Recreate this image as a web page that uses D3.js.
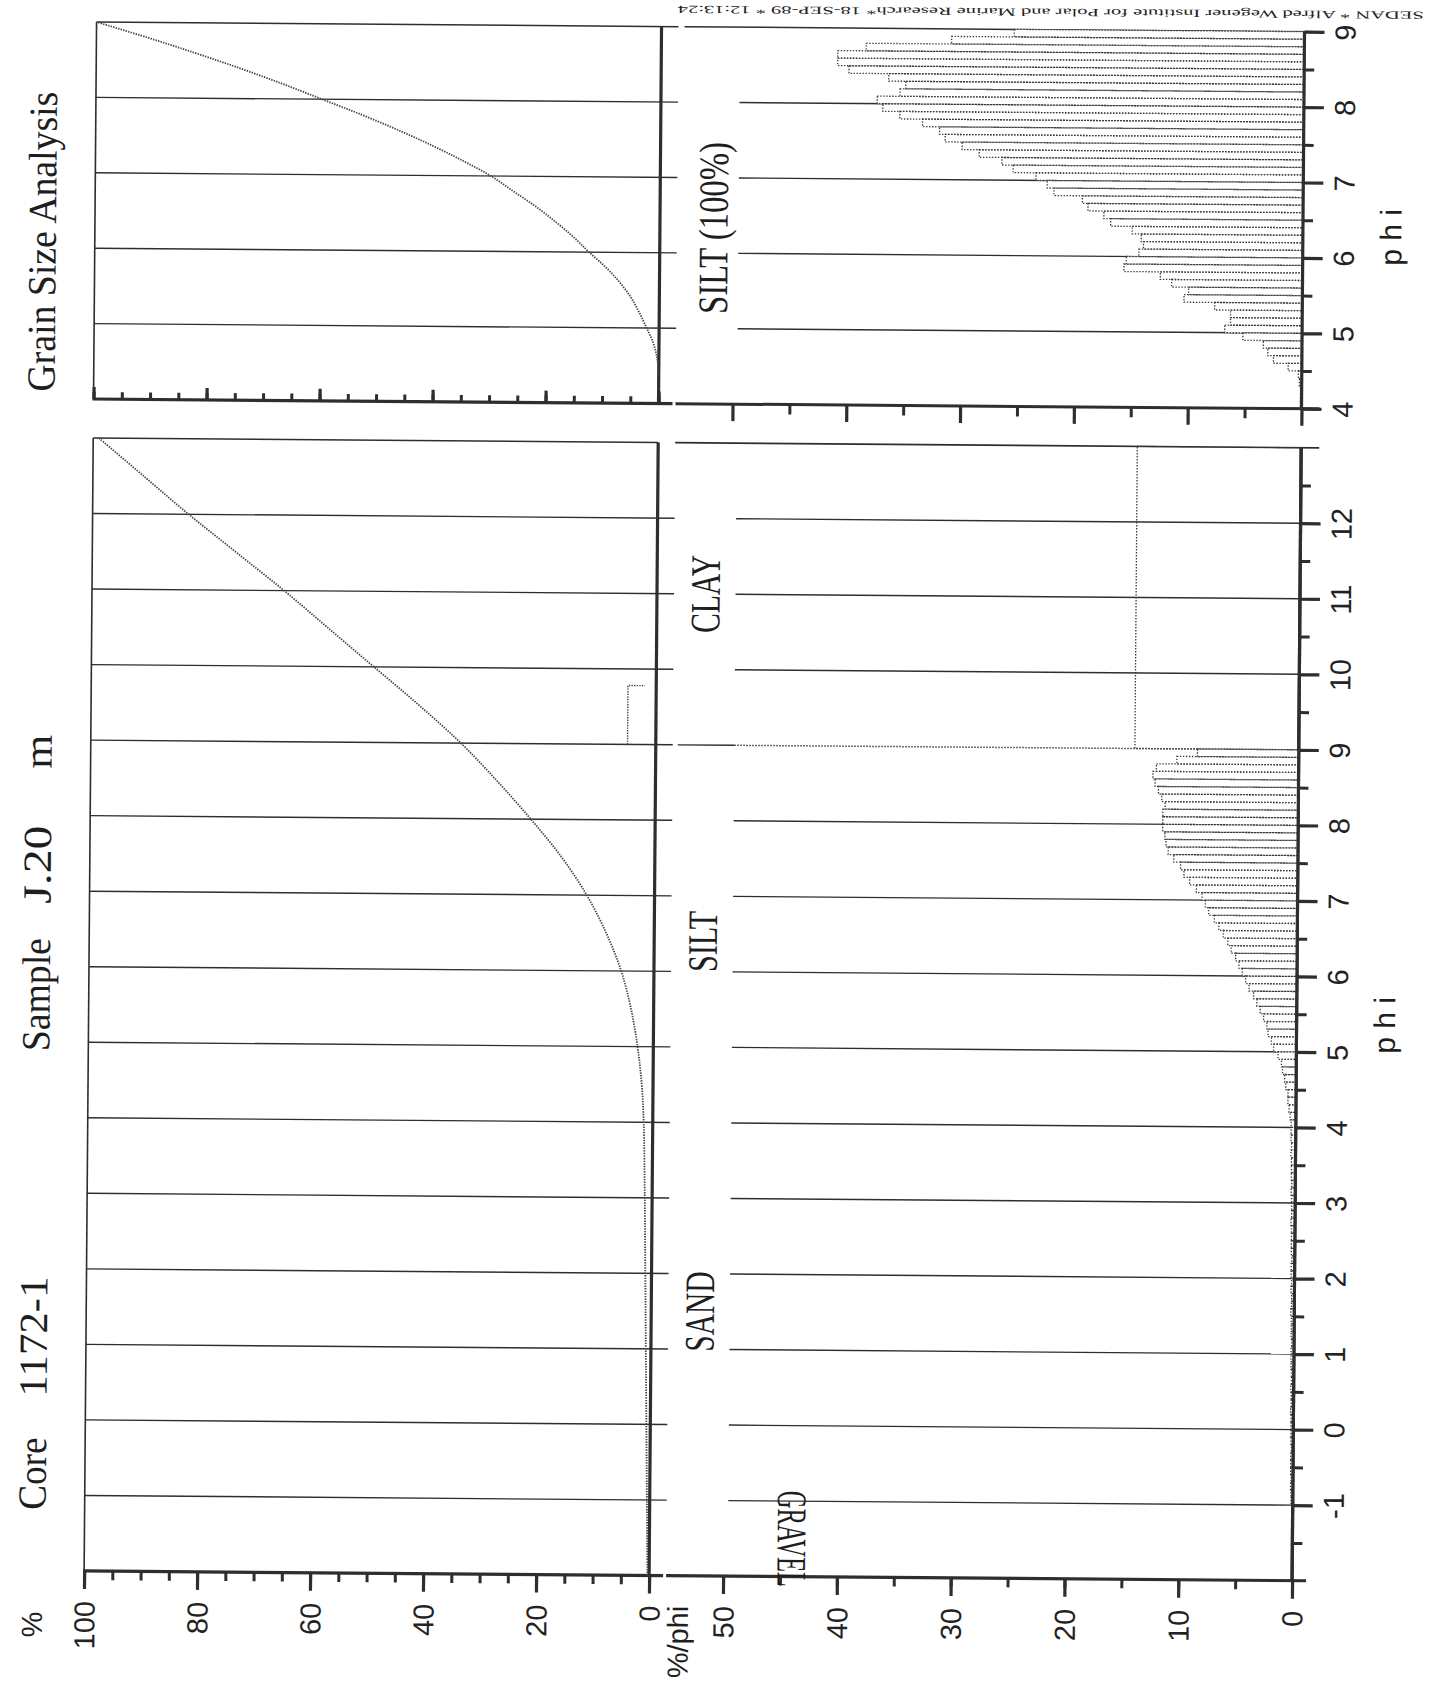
<!DOCTYPE html>
<html>
<head>
<meta charset="utf-8">
<script src="https://cdn.jsdelivr.net/npm/d3@7/dist/d3.min.js"></script>
<style>
html,body{margin:0;padding:0;background:#fff;}
svg{display:block;}
</style>
</head>
<body>
<svg id="chart" width="1430" height="1683"></svg>
<script>
// ---------------- data ----------------
const phiTicksLeft  = [-1,0,1,2,3,4,5,6,7,8,9,10,11,12];
const phiTicksRight = [4,5,6,7,8,9];
const cumTickLabels  = [100,80,60,40,20,0];
const histTickLabels = [50,40,30,20,10,0];

// cumulative curve, whole sample (%)
const cumAllPhi = [-2,-1,0,1,2,3,4,4.5,5,5.5,6,6.5,7,7.5,8,8.5,9,9.5,10,10.5,11,11.5,12,12.5,13];
const cumAllPct = [0.3,0.5,0.7,0.9,1.1,1.3,1.6,2.0,2.8,4.0,5.8,8.5,12.0,16.5,22.0,28.0,34.5,42.0,50.0,58.0,66.0,74.5,83.0,91.0,99.0];

// cumulative curve, silt fraction only (%)
const cumSiltPhi = [4.4,4.6,4.8,5.0,5.2,5.4,5.6,5.8,6.0,6.2,6.4,6.6,6.8,7.0,7.2,7.4,7.6,7.8,8.0,8.2,8.4,8.6,8.8,9.0];
const cumSiltPct = [0,0.3,1.0,2.2,3.5,5.0,7.0,9.5,12.5,15.3,18.5,22.0,26.0,30.0,35.0,40.5,46.5,53.0,60.0,67.0,74.5,82.5,91.0,100];

// histogram bins, 0.1 phi wide (%/phi)
const binWidth = 0.1;
const sandBinStart = -1.0;
const sandPctPerPhi = [0.15,0.15,0.2,0.15,0.2,0.2,0.2,0.15,0.2,0.2,
                       0.2,0.2,0.25,0.2,0.2,0.25,0.2,0.2,0.25,0.25,
                       0.25,0.2,0.25,0.25,0.25,0.3,0.25,0.25,0.3,0.25,
                       0.3,0.3,0.25,0.3,0.3,0.3,0.3,0.35,0.3,0.3,
                       0.3,0.35,0.3,0.35,0.35,0.35,0.4,0.35,0.4,0.4];
const siltBinStart = 4.0;
const siltPctPerPhi = [0.4,0.5,0.6,0.7,0.7,0.9,1.0,1.2,1.3,1.6,
                       2.0,2.2,2.5,2.6,2.9,3.2,3.5,3.8,4.2,4.5,
                       4.8,5.1,5.4,5.8,6.1,6.5,6.9,7.3,7.8,8.1,
                       8.4,8.9,9.5,10.0,10.3,10.9,11.4,11.6,11.7,11.9,
                       11.9,11.9,11.7,12.0,12.3,12.6,12.8,12.5,10.7,8.9];
const clayPhiRange = [9, 13];
const clayPctPerPhi = 14.4;

const silt100BinStart = 4.0;
const silt100PctPerPhi = [0.1,0.1,0.1,0.2,0.3,1.2,2.5,3.0,3.4,5.2,
                          6.8,6.3,6.3,7.7,10.4,10.0,11.5,12.5,15.7,15.5,
                          14.4,14.0,14.2,15.0,16.9,17.5,18.9,19.4,21.9,22.5,
                          23.5,25.5,26.5,28.5,30.0,31.5,32.0,33.5,35.5,37.0,
                          37.5,35.5,35.0,36.5,40.0,41.0,41.0,38.5,31.0,25.5];

// small marker in the cumulative panel
const markPhi = [9, 9.78, 9.78];
const markPct = [5, 5, 2];

const classNames   = ["GRAVEL","SAND","SILT","CLAY"];
const classCenters = [-1.5, 1.5, 6.4, 11];

// ---------------- drawing ----------------
const ink = '#2e2e2e';
const dots = '1.4 1.6';
const svg = d3.select('#chart');
const root = svg.append('g').attr('transform','rotate(0.46,715,841)');

const yL = d3.scaleLinear().domain([-2,13]).range([1576,443]);
const yR = d3.scaleLinear().domain([4,9]).range([404,27]);
const xCum  = d3.scaleLinear().domain([0,100]).range([655,90]);
const xHist = d3.scaleLinear().domain([0,50]).range([1298,729]);
const fmt = d => String(d);

function hline(g,x1,x2,y,w,dash){
  return g.append('line').attr('x1',x1).attr('x2',x2).attr('y1',y).attr('y2',y)
    .attr('stroke',ink).attr('stroke-width',w).attr('stroke-dasharray',dash||null);
}
function vline(g,x,y1,y2,w,dash){
  return g.append('line').attr('x1',x).attr('x2',x).attr('y1',y1).attr('y2',y2)
    .attr('stroke',ink).attr('stroke-width',w).attr('stroke-dasharray',dash||null);
}
function styleAxis(g, w){
  g.select('.domain').remove();
  g.selectAll('.tick line').attr('stroke',ink).attr('stroke-width',w);
  g.selectAll('text').attr('fill','#222').style('font-family','"Liberation Sans", Arial, sans-serif').style('font-size','29px');
}
function rotBottomLabels(g, off){
  g.selectAll('text').attr('transform','rotate(-90)').attr('x',-off).attr('y',0)
   .attr('dy','0.35em').attr('text-anchor','end');
}
function rotRightLabels(g, off){
  g.selectAll('text').attr('transform','rotate(-90)').attr('x',0).attr('y',off)
   .attr('dy','0.35em').attr('text-anchor','middle');
}
const range = (a,b,s)=>d3.range(a,b+s/2,s);

// ===== upper-left : cumulative, whole sample =====
const ul = root.append('g');
phiTicksLeft.forEach(p=>hline(ul, xCum(100), xCum(0)+17, yL(p), 1.4));
vline(ul, xCum(100), yL(-2), yL(13), 1.6);
hline(ul, xCum(100), xCum(0), yL(13), 1.5);
vline(ul, xCum(0), yL(-2), yL(13), 3.2);
hline(ul, xCum(100)-1, xCum(0)+14, yL(-2), 3.2);
{
  const gMin = ul.append('g').attr('transform',`translate(0,${yL(-2)})`)
    .call(d3.axisBottom(xCum).tickValues(range(0,100,5)).tickSize(9).tickFormat(''));
  styleAxis(gMin,3);
  const gMaj = ul.append('g').attr('transform',`translate(0,${yL(-2)})`)
    .call(d3.axisBottom(xCum).tickValues(cumTickLabels).tickSize(18).tickFormat(fmt));
  styleAxis(gMaj,3.2); rotBottomLabels(gMaj,30);
}
const cumLine = d3.line().x(d=>xCum(d[1])).y(d=>yL(d[0])).curve(d3.curveCatmullRom.alpha(0.5));
ul.append('path').datum(d3.zip(cumAllPhi,cumAllPct)).attr('d',cumLine)
  .attr('fill','none').attr('stroke','#444').attr('stroke-width',1.8).attr('stroke-dasharray','1.4 1.2');
ul.append('path').datum(d3.zip(markPhi,markPct))
  .attr('d',d3.line().x(d=>xCum(d[1])).y(d=>yL(d[0])))
  .attr('fill','none').attr('stroke','#444').attr('stroke-width',1.4).attr('stroke-dasharray','1.4 1.2');

// ===== lower-left : histogram, whole sample =====
const ll = root.append('g');
phiTicksLeft.filter(p=>p!==9).forEach(p=>hline(ll, xHist(49.6), xHist(0), yL(p), 1.4));
hline(ll, xCum(0)+22, xHist(49.6), yL(9), 1.4);
hline(ll, xHist(49.6), xHist(0), yL(9), 1.5, dots);
hline(ll, 672, xHist(0)+18, yL(13), 1.6);
hline(ll, 672, xHist(0)+14, yL(-2), 3.2);
vline(ll, xHist(0), yL(-2), yL(13), 3.2);
{
  const gMin = ll.append('g').attr('transform',`translate(0,${yL(-2)})`)
    .call(d3.axisBottom(xHist).tickValues(range(0,50,5)).tickSize(9).tickFormat(''));
  styleAxis(gMin,3);
  const gMaj = ll.append('g').attr('transform',`translate(0,${yL(-2)})`)
    .call(d3.axisBottom(xHist).tickValues(histTickLabels).tickSize(18).tickFormat(fmt));
  styleAxis(gMaj,3.2); rotBottomLabels(gMaj,30);
  const gPMin = ll.append('g').attr('transform',`translate(${xHist(0)},0)`)
    .call(d3.axisRight(yL).tickValues(range(-1.5,12.5,1)).tickSize(10).tickFormat(''));
  styleAxis(gPMin,3);
  const gPMaj = ll.append('g').attr('transform',`translate(${xHist(0)},0)`)
    .call(d3.axisRight(yL).tickValues(phiTicksLeft).tickSize(20).tickFormat(fmt));
  styleAxis(gPMaj,3.2); rotRightLabels(gPMaj,41);
}
const leftBins = [];
sandPctPerPhi.forEach((v,i)=>leftBins.push({p0:sandBinStart+i*binWidth, v}));
siltPctPerPhi.forEach((v,i)=>leftBins.push({p0:siltBinStart+i*binWidth, v}));
ll.selectAll('rect.fillL').data(leftBins).join('rect').attr('class','fillL')
  .attr('x',d=>xHist(d.v)).attr('width',d=>xHist(0)-xHist(d.v))
  .attr('y',d=>yL(d.p0+binWidth)).attr('height',d=>yL(d.p0)-yL(d.p0+binWidth))
  .attr('fill','#fff');
ll.selectAll('rect.strokeL').data(leftBins).join('rect').attr('class','strokeL')
  .attr('x',d=>xHist(d.v)).attr('width',d=>xHist(0)-xHist(d.v))
  .attr('y',d=>yL(d.p0+binWidth)).attr('height',d=>yL(d.p0)-yL(d.p0+binWidth))
  .attr('fill','none').attr('stroke','#3a3a3a').attr('stroke-width',1.3).attr('stroke-dasharray',dots);
ll.append('rect')
  .attr('x',xHist(clayPctPerPhi)).attr('width',xHist(0)-xHist(clayPctPerPhi))
  .attr('y',yL(clayPhiRange[1])).attr('height',yL(clayPhiRange[0])-yL(clayPhiRange[1]))
  .attr('fill','none').attr('stroke','#3a3a3a').attr('stroke-width',1.3).attr('stroke-dasharray',dots);
vline(ll, xHist(0), yL(-2), yL(13), 3.2);

// ===== upper-right : cumulative, silt only =====
const ur = root.append('g');
[5,6,7,8].forEach(p=>hline(ur, xCum(100), xCum(0)+17, yR(p), 1.4));
hline(ur, xCum(100), xCum(0)+17, yR(9), 1.5);
vline(ur, xCum(100), yR(4), yR(9), 1.6);
vline(ur, xCum(0), yR(4), yR(9), 3.2);
hline(ur, xCum(100)-1, xCum(0)+14, yR(4), 3.2);
{
  const gMin = ur.append('g').attr('transform',`translate(0,${yR(4)})`)
    .call(d3.axisTop(xCum).tickValues(range(0,100,5)).tickSize(7).tickFormat(''));
  styleAxis(gMin,3);
  const gMaj = ur.append('g').attr('transform',`translate(0,${yR(4)})`)
    .call(d3.axisTop(xCum).tickValues(cumTickLabels).tickSize(12).tickFormat(''));
  styleAxis(gMaj,3.2);
}
const cumLineR = d3.line().x(d=>xCum(d[1])).y(d=>yR(d[0])).curve(d3.curveCatmullRom.alpha(0.5));
ur.append('path').datum(d3.zip(cumSiltPhi,cumSiltPct)).attr('d',cumLineR)
  .attr('fill','none').attr('stroke','#444').attr('stroke-width',1.8).attr('stroke-dasharray','1.4 1.2');

// ===== lower-right : histogram, silt 100% =====
const lr = root.append('g');
[5,6,7,8].forEach(p=>hline(lr, xHist(49.6), xHist(0), yR(p), 1.4));
hline(lr, 678, xHist(0)+18, yR(9), 1.5);
hline(lr, 672, xHist(0)+18, yR(4), 3.0);
{
  const gMin = lr.append('g').attr('transform',`translate(0,${yR(4)})`)
    .call(d3.axisBottom(xHist).tickValues(range(5,45,10)).tickSize(10).tickFormat(''));
  styleAxis(gMin,3);
  const gMaj = lr.append('g').attr('transform',`translate(0,${yR(4)})`)
    .call(d3.axisBottom(xHist).tickValues(histTickLabels).tickSize(17).tickFormat(''));
  styleAxis(gMaj,3.2);
  const gPMin = lr.append('g').attr('transform',`translate(${xHist(0)},0)`)
    .call(d3.axisRight(yR).tickValues(range(4.5,8.5,1)).tickSize(10).tickFormat(''));
  styleAxis(gPMin,3);
  const gPMaj = lr.append('g').attr('transform',`translate(${xHist(0)},0)`)
    .call(d3.axisRight(yR).tickValues(phiTicksRight).tickSize(20).tickFormat(fmt));
  styleAxis(gPMaj,3.2); rotRightLabels(gPMaj,41);
}
const rightBins = silt100PctPerPhi.map((v,i)=>({p0:silt100BinStart+i*binWidth, v}));
lr.selectAll('rect.fillR').data(rightBins).join('rect').attr('class','fillR')
  .attr('x',d=>xHist(d.v)).attr('width',d=>xHist(0)-xHist(d.v))
  .attr('y',d=>yR(d.p0+binWidth)).attr('height',d=>yR(d.p0)-yR(d.p0+binWidth))
  .attr('fill','#fff');
lr.selectAll('rect.strokeR').data(rightBins).join('rect').attr('class','strokeR')
  .attr('x',d=>xHist(d.v)).attr('width',d=>xHist(0)-xHist(d.v))
  .attr('y',d=>yR(d.p0+binWidth)).attr('height',d=>yR(d.p0)-yR(d.p0+binWidth))
  .attr('fill','none').attr('stroke','#3a3a3a').attr('stroke-width',1.3).attr('stroke-dasharray',dots);
vline(lr, xHist(0), yR(4), yR(9), 3.2);

// ===== texts =====
function rotText(g, x, y, txt, opts){
  const t = g.append('text').attr('transform',`translate(${x},${y}) rotate(${opts.rot||-90})`)
    .attr('text-anchor',opts.anchor||'middle').attr('dy',opts.dy||'0.35em')
    .attr('fill','#1e1e1e')
    .style('font-family',opts.font||'"Liberation Serif", "Times New Roman", serif')
    .style('font-size',(opts.size||40)+'px').text(txt);
  if(opts.len) t.attr('textLength',opts.len).attr('lengthAdjust','spacingAndGlyphs');
  return t;
}
const tx = root.append('g');
// titles
rotText(tx, 37, 1479, 'Core',   {size:40, len:72});
rotText(tx, 37, 1342, '1172-1', {size:40, len:120});
rotText(tx, 37, 1000, 'Sample', {size:40, len:113});
rotText(tx, 37, 870,  'J.20',   {size:40, len:78});
rotText(tx, 37, 757,  'm',      {size:40, len:34});
rotText(tx, 37, 247,  'Grain Size Analysis', {size:40, len:300});
// class labels
const classLens = [96, 80, 61, 78];
classNames.forEach((n,i)=>{
  if(n==='GRAVEL') rotText(tx, 798, yL(classCenters[i]), n, {size:42, len:classLens[i], rot:90});
  else rotText(tx, 703, yL(classCenters[i]), n, {size:42, len:classLens[i]});
});
rotText(tx, 708, 228, 'SILT (100%)', {size:42, len:172});
// axis titles
const sans = '"Liberation Sans", Arial, sans-serif';
rotText(tx, 38, 1630, '%', {size:29, font:sans});
rotText(tx, 684, 1606, '%/phi', {size:29, font:sans, anchor:'end'});
rotText(tx, 1386, 1020, 'p h i', {size:30, font:sans});
rotText(tx, 1386, 232, 'p h i', {size:30, font:sans});
// footer (upside down)
tx.append('text').attr('transform','translate(1417,6) rotate(180)')
  .attr('text-anchor','start').attr('dy','0em').attr('fill','#222')
  .style('font-family','"Liberation Serif", "Times New Roman", serif').style('font-size','11px')
  .attr('textLength',746).attr('lengthAdjust','spacingAndGlyphs')
  .text('SEDAN * Alfred Wegener Institute for Polar and Marine Research* 18-SEP-89 * 12:13:24');
</script>
</body>
</html>
